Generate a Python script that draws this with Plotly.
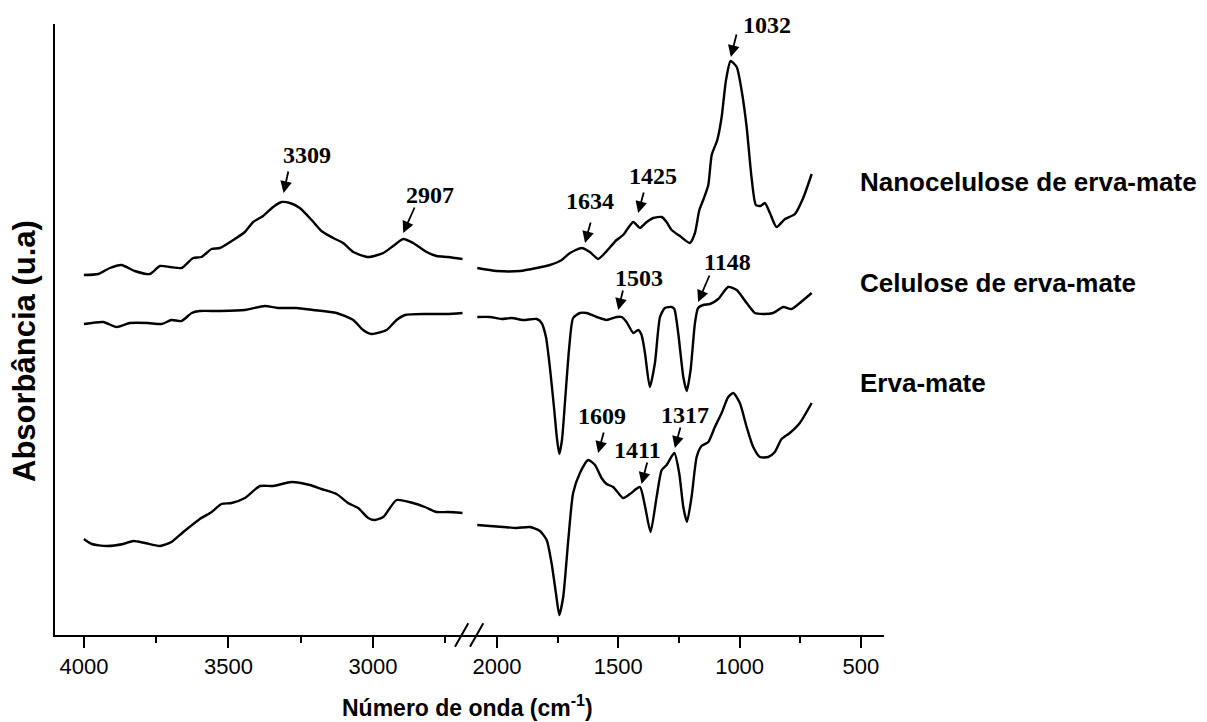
import plotly.graph_objects as go

# ---------------- FTIR spectra (absorbance in arbitrary units) ----------------
# High-wavenumber window (4000 - 2690 cm-1)
wn_left = {
    "nano": [4000, 3950, 3910, 3870, 3824, 3772, 3737, 3702, 3662, 3622, 3593, 3558, 3529,
             3483, 3443, 3414, 3380, 3345, 3316, 3287, 3253, 3212, 3178, 3137, 3103, 3068,
             3016, 2964, 2930, 2895, 2861, 2814, 2780, 2740, 2690],
    "cel": [4000, 3933, 3887, 3841, 3778, 3731, 3697, 3662, 3627, 3599, 3529, 3443, 3374,
            3328, 3264, 3207, 3126, 3068, 3034, 3005, 2953, 2918, 2889, 2814, 2745, 2690],
    "erva": [4000, 3973, 3921, 3864, 3829, 3789, 3737, 3697, 3656, 3599, 3558, 3524, 3489,
             3443, 3391, 3345, 3281, 3218, 3178, 3126, 3086, 3051, 3016, 2993, 2964, 2918,
             2861, 2820, 2780, 2740, 2690],
}
abs_left = {
    "nano": [3.60, 3.61, 3.67, 3.70, 3.64, 3.61, 3.69, 3.68, 3.67, 3.77, 3.78, 3.86, 3.87,
             3.95, 4.03, 4.13, 4.19, 4.28, 4.33, 4.32, 4.27, 4.15, 4.04, 3.97, 3.92, 3.83,
             3.78, 3.82, 3.89, 3.96, 3.92, 3.83, 3.79, 3.78, 3.76],
    "cel": [3.11, 3.13, 3.08, 3.12, 3.12, 3.11, 3.15, 3.14, 3.22, 3.24, 3.24, 3.25, 3.29,
            3.27, 3.27, 3.25, 3.22, 3.15, 3.05, 3.01, 3.05, 3.15, 3.20, 3.21, 3.21, 3.22],
    "erva": [0.96, 0.91, 0.89, 0.91, 0.94, 0.92, 0.89, 0.93, 1.03, 1.16, 1.23, 1.31, 1.32,
             1.37, 1.49, 1.49, 1.53, 1.50, 1.46, 1.41, 1.32, 1.27, 1.17, 1.15, 1.18, 1.35,
             1.32, 1.28, 1.23, 1.23, 1.22],
}

# Fingerprint window (2080 - 700 cm-1)
wn_right = {
    "nano": [2081, 2001, 1905, 1836, 1782, 1733, 1699, 1651, 1617, 1583, 1555, 1507, 1480,
             1438, 1411, 1383, 1356, 1321, 1301, 1280, 1246, 1205, 1184, 1166, 1150, 1129,
             1115, 1092, 1074, 1056, 1037, 1012, 992, 971, 951, 933, 914, 896, 875, 848,
             813, 772, 738, 703],
    "cel": [2081, 2029, 1981, 1939, 1892, 1836, 1816, 1798, 1782, 1765, 1752, 1743, 1732,
            1719, 1702, 1686, 1658, 1630, 1589, 1548, 1507, 1486, 1466, 1438, 1418, 1404,
            1390, 1370, 1349, 1328, 1308, 1280, 1269, 1253, 1232, 1218, 1202, 1184, 1171,
            1150, 1122, 1088, 1047, 1012, 971, 937, 903, 862, 820, 786, 752, 703],
    "erva": [2081, 2029, 1974, 1919, 1864, 1823, 1795, 1775, 1757, 1743, 1727, 1706, 1686,
             1658, 1624, 1596, 1569, 1548, 1521, 1500, 1480, 1452, 1411, 1390, 1367, 1342,
             1321, 1301, 1269, 1249, 1232, 1217, 1198, 1177, 1157, 1129, 1102, 1074, 1047,
             1026, 999, 971, 944, 916, 882, 855, 827, 793, 752, 703],
}
abs_right = {
    "nano": [3.67, 3.64, 3.64, 3.67, 3.70, 3.75, 3.82, 3.87, 3.83, 3.76, 3.82, 3.95, 4.00,
             4.13, 4.07, 4.13, 4.17, 4.18, 4.13, 4.05, 3.99, 3.92, 4.02, 4.25, 4.35, 4.50,
             4.80, 4.95, 5.18, 5.55, 5.74, 5.68, 5.45, 5.08, 4.58, 4.30, 4.29, 4.32, 4.22,
             4.08, 4.16, 4.21, 4.37, 4.61],
    "cel": [3.18, 3.18, 3.16, 3.17, 3.15, 3.16, 3.12, 2.98, 2.68, 2.28, 1.95, 1.81, 1.95,
            2.35, 2.88, 3.17, 3.22, 3.22, 3.18, 3.15, 3.18, 3.18, 3.13, 3.02, 3.05, 3.00,
            2.82, 2.48, 2.72, 3.18, 3.27, 3.28, 3.26, 3.02, 2.58, 2.44, 2.65, 3.12, 3.27,
            3.30, 3.31, 3.36, 3.48, 3.45, 3.32, 3.22, 3.21, 3.22, 3.28, 3.26, 3.32, 3.42],
    "erva": [1.10, 1.09, 1.08, 1.07, 1.08, 1.04, 0.95, 0.72, 0.42, 0.20, 0.38, 0.95, 1.42,
             1.62, 1.75, 1.70, 1.57, 1.51, 1.48, 1.42, 1.37, 1.41, 1.48, 1.29, 1.03, 1.38,
             1.65, 1.70, 1.82, 1.62, 1.28, 1.13, 1.38, 1.78, 1.89, 1.93, 2.08, 2.22, 2.38,
             2.42, 2.32, 2.08, 1.88, 1.78, 1.78, 1.83, 1.96, 2.02, 2.12, 2.32],
}

sample_names = {
    "nano": "Nanocelulose de erva-mate",
    "cel": "Celulose de erva-mate",
    "erva": "Erva-mate",
}

# Band assignments: label, axis, arrow tip (wavenumber, absorbance)
band_labels = ["3309", "2907", "1032", "1425", "1634", "1503", "1148", "1609", "1411", "1317"]
band_axis = ["x", "x", "x2", "x2", "x2", "x2", "x2", "x2", "x2", "x2"]
band_tip_wn = [3309, 2895, 1036, 1418, 1637, 1500, 1171, 1583, 1404, 1267]
band_tip_abs = [4.42, 4.02, 5.78, 4.22, 3.92, 3.25, 3.33, 1.82, 1.51, 1.87]
# arrow tail offsets and label offsets (pixels)
arrow_dx = [5, 12, 6, 6, 6, 5, 12, 6, 6, 6]
arrow_dy = [-23, -27, -24, -22, -22, -21, -28, -22, -23, -22]
text_dx = [23, 27, 36, 15, 5, 21, 29, 4, -4, 10]
text_dy = [38, 38, 32, 37, 42, 32, 40, 37, 34, 33]

# ---------------- layout geometry ----------------
W, H = 1207, 722
ML, MR, MT, MB = 55, 323, 24, 87
plot_w = W - ML - MR
plot_h = H - MT - MB
split = (470 - ML) / plot_w


def px(x):
    return (x - ML) / plot_w


def py(y):
    return (H - MB - y) / plot_h


line_style = dict(color="black", width=2.4, shape="spline", smoothing=0.6)

fig = go.Figure()
for key in ["nano", "cel", "erva"]:
    fig.add_trace(go.Scatter(x=wn_left[key], y=abs_left[key], xaxis="x", yaxis="y",
                             mode="lines", line=line_style, showlegend=False, name=sample_names[key]))
    fig.add_trace(go.Scatter(x=wn_right[key], y=abs_right[key], xaxis="x2", yaxis="y",
                             mode="lines", line=line_style, showlegend=False, name=sample_names[key]))

tick_font = dict(family="Liberation Sans, Arial, sans-serif", size=22, color="black")
axis_common = dict(showline=True, linewidth=2, linecolor="black", showgrid=False, zeroline=False,
                   ticks="outside", ticklen=11, tickwidth=2, tickcolor="black", tickfont=tick_font,
                   minor=dict(ticks="outside", ticklen=6, tickwidth=2, tickcolor="black", dtick=250, tick0=0,
                              showgrid=False),
                   anchor="y")

fig.update_layout(
    width=W, height=H,
    margin=dict(l=ML, r=MR, t=MT, b=MB),
    paper_bgcolor="white", plot_bgcolor="white",
    xaxis=dict(domain=[0, split], range=[4100, 2664], tickmode="array", tickvals=[4000, 3500, 3000],
               **axis_common),
    xaxis2=dict(domain=[split, 1], range=[2111, 405], tickmode="array", tickvals=[2000, 1500, 1000, 500],
                **axis_common),
    yaxis=dict(range=[0, 6.11], showline=True, linewidth=2, linecolor="black", showgrid=False,
               zeroline=False, showticklabels=False, ticks="", anchor="x"),
)

annotations = []
for lab, ax_id, wn, a, adx, ady, tdx, tdy in zip(band_labels, band_axis, band_tip_wn, band_tip_abs,
                                                 arrow_dx, arrow_dy, text_dx, text_dy):
    annotations.append(dict(x=wn, y=a, xref=ax_id, yref="y", text="", showarrow=True,
                            ax=adx, ay=ady, arrowhead=2, arrowsize=1.3, arrowwidth=1.8,
                            arrowcolor="black", standoff=0, startstandoff=0))
    annotations.append(dict(x=wn, y=a, xref=ax_id, yref="y", text="<b>%s</b>" % lab, showarrow=False,
                            xshift=tdx, yshift=tdy,
                            font=dict(family="Liberation Serif, Times New Roman, serif", size=24,
                                      color="black")))

side_font = dict(family="Liberation Sans, Arial, sans-serif", size=26, color="black")
for key, ypix in [("nano", 181.7), ("cel", 283), ("erva", 383)]:
    annotations.append(dict(x=px(858), y=py(ypix), xref="paper", yref="paper", xanchor="left",
                            yanchor="middle", showarrow=False, text="<b>%s</b>" % sample_names[key],
                            font=side_font))

annotations.append(dict(x=px(467), y=py(706), xref="paper", yref="paper", xanchor="center",
                        yanchor="middle", showarrow=False,
                        text="<b>Número de onda (cm<sup>-1</sup>)</b>",
                        font=dict(family="Liberation Sans, Arial, sans-serif", size=23, color="black")))
annotations.append(dict(x=px(25), y=py(351), xref="paper", yref="paper", xanchor="center",
                        yanchor="middle", showarrow=False, textangle=-90,
                        text="<b>Absorbância (u.a)</b>",
                        font=dict(family="Liberation Sans, Arial, sans-serif", size=31, color="black")))
fig.update_layout(annotations=annotations)

# axis break marks
for x0, x1 in [(455, 468.3), (470, 483.3)]:
    fig.add_shape(type="line", xref="paper", yref="paper", x0=px(x0), y0=py(646.7), x1=px(x1), y1=py(623.3),
                  line=dict(color="black", width=2))

fig.write_html("out.html")
